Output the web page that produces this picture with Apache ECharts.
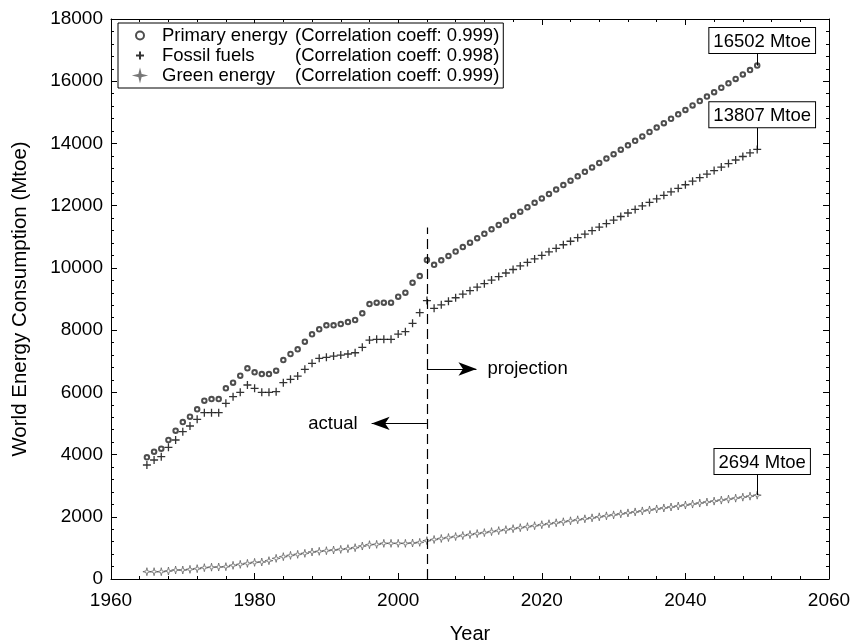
<!DOCTYPE html>
<html>
<head>
<meta charset="utf-8">
<title>World Energy Consumption</title>
<script src="https://cdn.jsdelivr.net/npm/echarts@6/dist/echarts.min.js"></script>
<style>
html, body { margin: 0; padding: 0; background: #fff; }
#chart { width: 856px; height: 643px; }
</style>
</head>
<body>
<div id="chart"></div>
<script>
var FONT = '"Liberation Sans", Arial, Helvetica, sans-serif';
var firstYear = 1965;
var splitYear = 2004;
var lastYear = 2050;

var seriesNames = ['Primary energy', 'Fossil fuels', 'Green energy'];
var correlations = ['0.999', '0.998', '0.999'];
var finalLabels = ['16502 Mtoe', '13807 Mtoe', '2694 Mtoe'];

// 1965 - 2004 (actual)
var primaryActual = [3912, 4091, 4188, 4468, 4767, 5046, 5217, 5454, 5731, 5785,
	5785, 6129, 6309, 6534, 6772, 6643, 6589, 6589, 6695, 7039,
	7232, 7383, 7627, 7865, 8026, 8155, 8155, 8196, 8260, 8325,
	8540, 8839, 8880, 8880, 8880, 9073, 9202, 9523, 9738, 10253];
var fossilActual = [3664, 3825, 3931, 4233, 4468, 4735, 4918, 5133, 5345, 5345,
	5345, 5647, 5859, 6001, 6236, 6129, 6001, 6001, 6020, 6309,
	6418, 6524, 6740, 6933, 7093, 7125, 7167, 7199, 7232, 7273,
	7447, 7681, 7704, 7704, 7704, 7874, 7949, 8218, 8559, 8950];
var greenActual = [235, 235, 235, 257, 289, 289, 310, 332, 364, 380,
	385, 396, 439, 471, 503, 535, 546, 589, 664, 718,
	760, 793, 825, 868, 889, 910, 932, 953, 975, 1007,
	1060, 1103, 1114, 1146, 1146, 1146, 1146, 1157, 1178, 1232];

// 2005 - 2050 (projection)
var primaryProjection = [10100, 10242, 10385, 10527, 10669, 10811, 10954, 11096, 11238, 11380,
	11523, 11665, 11807, 11949, 12092, 12234, 12376, 12518, 12661, 12803,
	12945, 13087, 13230, 13372, 13514, 13656, 13799, 13941, 14083, 14225,
	14368, 14510, 14652, 14794, 14937, 15079, 15221, 15363, 15506, 15648,
	15790, 15932, 16075, 16217, 16359, 16502];
var fossilProjection = [8700, 8813, 8927, 9040, 9154, 9267, 9381, 9494, 9608, 9721,
	9835, 9948, 10062, 10175, 10289, 10402, 10516, 10630, 10743, 10857,
	10970, 11084, 11197, 11311, 11424, 11538, 11651, 11765, 11878, 11992,
	12105, 12219, 12332, 12446, 12559, 12673, 12787, 12900, 13014, 13127,
	13241, 13354, 13468, 13581, 13695, 13807];
var greenProjection = [1270, 1302, 1333, 1365, 1397, 1428, 1460, 1491, 1523, 1555,
	1586, 1618, 1650, 1681, 1713, 1745, 1776, 1808, 1840, 1871,
	1903, 1935, 1966, 1998, 2030, 2061, 2093, 2124, 2156, 2188,
	2219, 2251, 2283, 2314, 2346, 2378, 2409, 2441, 2473, 2504,
	2536, 2567, 2599, 2631, 2662, 2694];

var finalValues = [16502, 13807, 2694];
var boxLift = [404, 710, 681];   // connector length up to the boxed label
var dashTop = 11300;
var projectionArrow = [6750, 2010.9];
var actualArrow = [5000, 1996.3];

var chart = echarts.init(document.getElementById('chart'), null, {renderer: 'canvas'});

function toPoints(actual, projection) {
	var all = actual.concat(projection);
	var pts = [];
	for (var i = 0; i < all.length; i++) {
		pts.push([firstYear + i, all[i]]);
	}
	return pts;
}

function boxLine(i) {
	return [{
		coord: [lastYear, finalValues[i]],
		symbol: 'none',
		lineStyle: {type: 'solid', width: 1, color: '#000'},
		label: {
			show: true, position: 'end', distance: 0, offset: [5, 0],
			formatter: finalLabels[i],
			color: '#000', fontSize: 18.5, fontFamily: FONT,
			backgroundColor: '#fff', borderColor: '#000', borderWidth: 1,
			padding: [4, 4, 2, 4]
		}
	}, {
		coord: [lastYear, finalValues[i] + boxLift[i]],
		symbol: 'none'
	}];
}

function plain(v) { return String(v); }

function xAxisCfg(pos, labels) {
	return {
		type: 'value', position: pos, min: 1960, max: 2060, interval: 20,
		name: labels ? 'Year' : '', nameLocation: 'middle', nameGap: 45,
		nameTextStyle: {color: '#000', fontSize: 20, fontFamily: FONT},
		axisLine: {show: true, onZero: false, lineStyle: {color: '#000', width: 1}},
		axisTick: {show: true, inside: true, length: 6, lineStyle: {color: '#000', width: 1}},
		minorTick: {show: true, splitNumber: 5, length: 3, lineStyle: {color: '#000', width: 1}},
		splitLine: {show: false},
		axisLabel: {show: labels, color: '#000', fontSize: 19, fontFamily: FONT, margin: 12,
			showMinLabel: true, showMaxLabel: true, formatter: plain}
	};
}

function yAxisCfg(pos, labels) {
	return {
		type: 'value', position: pos, min: 0, max: 18000, interval: 2000,
		name: labels ? 'World Energy Consumption (Mtoe)' : '', nameLocation: 'middle', nameGap: 80,
		nameTextStyle: {color: '#000', fontSize: 20.5, fontFamily: FONT},
		axisLine: {show: true, onZero: false, lineStyle: {color: '#000', width: 1}},
		axisTick: {show: true, inside: true, length: 6, lineStyle: {color: '#000', width: 1}},
		minorTick: {show: true, splitNumber: 5, length: 3, lineStyle: {color: '#000', width: 1}},
		splitLine: {show: false},
		axisLabel: {show: labels, color: '#000', fontSize: 19, fontFamily: FONT, margin: 8,
			showMinLabel: true, showMaxLabel: true, formatter: plain}
	};
}

var plusPath = 'path://M0,5 L10,5 M5,0 L5,10';
var starPath = 'path://M5,0 L6,4 L10,5 L6,6 L5,10 L4,6 L0,5 L4,4 Z';

chart.setOption({
	animation: false,
	backgroundColor: '#fff',
	grid: {left: 111, right: 27, top: 19, bottom: 64, outerBoundsMode: 'none', containLabel: false},
	xAxis: [xAxisCfg('bottom', true), xAxisCfg('top', false)],
	yAxis: [yAxisCfg('left', true), yAxisCfg('right', false)],
	legend: {
		orient: 'vertical', left: 118, top: 23,
		backgroundColor: '#fff', borderColor: '#000', borderWidth: 1,
		padding: [3, 4, 3, 17], itemGap: 1, itemWidth: 8, itemHeight: 8,
		data: seriesNames,
		textStyle: {
			color: '#000', fontSize: 18.5, fontFamily: FONT, padding: [0, 0, 0, 13],
			rich: {
				n: {width: 133, color: '#000', fontSize: 18.5, fontFamily: FONT},
				c: {color: '#000', fontSize: 18.5, fontFamily: FONT}
			}
		},
		formatter: function (name) {
			var i = seriesNames.indexOf(name);
			return '{n|' + name + '}{c|(Correlation coeff: ' + correlations[i] + ')}';
		}
	},
	series: [{
		name: seriesNames[0],
		type: 'scatter',
		symbol: 'emptyCircle',
		symbolSize: 4.5,
		itemStyle: {color: '#222', borderColor: '#222', borderWidth: 0.7},
		data: toPoints(primaryActual, primaryProjection),
		markLine: {
			silent: true, animation: false, symbol: 'none',
			data: [
				[{coord: [splitYear, 0], symbol: 'none', label: {show: false},
					lineStyle: {type: [10, 5], width: 1.2, color: '#000'}},
				 {coord: [splitYear, dashTop], symbol: 'none'}],
				boxLine(0)
			]
		}
	}, {
		name: seriesNames[1],
		type: 'scatter',
		symbol: plusPath,
		symbolSize: 8,
		itemStyle: {color: 'transparent', borderColor: '#000', borderWidth: 1.3},
		data: toPoints(fossilActual, fossilProjection),
		markLine: {
			silent: true, animation: false,
			data: [
				[{coord: [splitYear, projectionArrow[0]], symbol: 'none',
					lineStyle: {type: 'solid', width: 1, color: '#000'},
					label: {show: true, position: 'end', distance: 11, formatter: 'projection',
						color: '#000', fontSize: 18.5, fontFamily: FONT}},
				 {coord: [projectionArrow[1], projectionArrow[0]], symbol: 'arrow', symbolSize: [10, 18]}],
				[{coord: [splitYear, actualArrow[0]], symbol: 'none',
					lineStyle: {type: 'solid', width: 1, color: '#000'},
					label: {show: true, position: 'end', distance: 14, formatter: 'actual',
						color: '#000', fontSize: 18.5, fontFamily: FONT}},
				 {coord: [actualArrow[1], actualArrow[0]], symbol: 'arrow', symbolSize: [10, 18]}],
				boxLine(1)
			]
		}
	}, {
		name: seriesNames[2],
		type: 'scatter',
		symbol: starPath,
		symbolSize: 8,
		itemStyle: {color: '#fff', borderColor: '#555', borderWidth: 0.9},
		data: toPoints(greenActual, greenProjection),
		markLine: {
			silent: true, animation: false, symbol: 'none',
			data: [boxLine(2)]
		}
	}]
});
</script>
</body>
</html>
